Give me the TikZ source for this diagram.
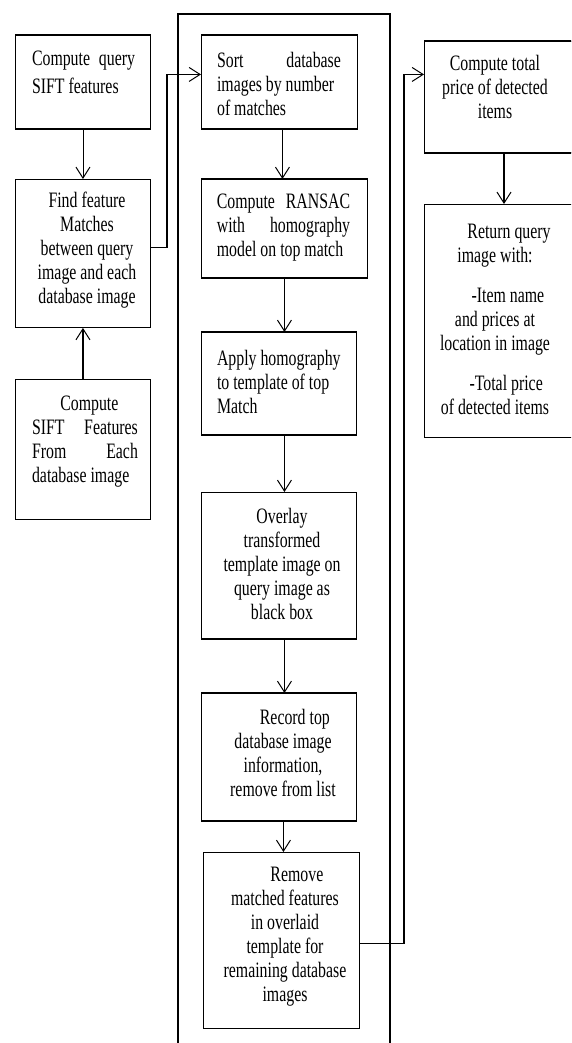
\documentclass[tikz,border=0pt]{standalone}
\usepackage{fontspec}
\usepackage{graphicx}
\setmainfont{Liberation Serif}
\newcommand\nohyph{\hyphenpenalty 10000\exhyphenpenalty 10000\relax}
% #1 = design width, #2 = alignment, #3 = text ; squeezed horizontally
\newcommand\sqtext[3]{\scalebox{0.72}[1]{\begin{minipage}{#1}#2\nohyph #3\end{minipage}}}
\usetikzlibrary{arrows.meta,calc}
\begin{document}
\begin{tikzpicture}[x=1pt,y=-1pt,
  box/.style={draw, line width=0.9pt, inner sep=0pt, anchor=north west},
  txt/.style={inner sep=0pt, font={\fontsize{22}{24}\selectfont}},
  arr/.style={line width=1.2pt, -{Straight Barb[length=11pt,width=14pt,line width=1pt]}},
  thinarr/.style={arr, line width=0.7pt},
  thickarr/.style={arr, line width=2pt},
  edge/.style={line width=2pt}]
\clip (0,0) rectangle (571,1043);
\fill[white] (0,0) rectangle (571,1043);
% frame
\node[draw, line width=1.6pt, inner sep=0pt, anchor=north west,
      minimum width=212pt, minimum height=1060pt] (F) at (177,13) {};
% boxes
\node[box, minimum width=135pt, minimum height=93pt]  (A) at (15,35) {};
\node[box, minimum width=135pt, minimum height=148pt] (B) at (15,179) {};
\node[box, minimum width=135pt, minimum height=140pt] (C) at (15,379) {};
\node[box, minimum width=156pt, minimum height=93pt]  (Sort) at (201,35) {};
\node[box, minimum width=166pt, minimum height=98pt]  (RANSAC) at (201,179) {};
\node[box, minimum width=155pt, minimum height=102pt] (Apply) at (201,332) {};
\node[box, minimum width=155pt, minimum height=146pt] (Overlay) at (201,492) {};
\node[box, minimum width=155pt, minimum height=127pt] (Record) at (201,693) {};
\node[box, minimum width=156pt, minimum height=176pt] (Remove) at (203,852) {};
\node[box, minimum width=176pt, minimum height=111pt] (Total) at (424,41) {};
\node[box, minimum width=176pt, minimum height=233pt] (Return) at (424,204) {};
\foreach \n in {A,Sort,RANSAC,Apply,Record,Total}
  \draw[edge] (\n.north west) -- (\n.north east) (\n.south west) -- (\n.south east);
\draw[edge] (Overlay.south west) -- (Overlay.south east);
% texts
\node[txt] (tA) at (83.5,72.5)
  {\sqtext{143pt}{\raggedright}{Compute\hfill query\\[4pt]SIFT features}};
\node[txt] (tB) at (87,250)
  {\sqtext{200pt}{\centering}{Find feature\\Matches\\between query\\image and each\\database image}};
\node[txt] (tC) at (85,441.5)
  {\sqtext{147pt}{\raggedright}{\hfill\hspace{12pt}Compute\hfill\null\\SIFT\hfill Features\\From\hfill Each\\database image}};
\node[txt] (tSort) at (279,83.5)
  {\sqtext{172pt}{\raggedright}{Sort\hfill database\\images by number\\of matches}};
\node[txt] (tRANSAC) at (283.5,228)
  {\sqtext{185pt}{\raggedright}{Compute\hfill RANSAC\\with\hfill homography\\model on top match}};
\node[txt] (tApply) at (280,382)
  {\sqtext{175pt}{\raggedright}{Apply homography\\to template of top\\Match}};
\node[txt] (tOverlay) at (282,563.5)
  {\sqtext{200pt}{\centering}{Overlay\\transformed\\template image on\\query image as\\black box}};
\node[txt] (tRecord) at (283,752.5)
  {\sqtext{200pt}{\centering}{\hspace*{33pt}Record top\\database image\\information,\\remove from list}};
\node[txt] (tRemove) at (285,937)
  {\sqtext{200pt}{\centering}{\hspace*{33pt}Remove\\matched features\\in overlaid\\template for\\remaining database\\images}};
\node[txt] (tTotal) at (495,87)
  {\sqtext{200pt}{\centering}{Compute total\\price of detected\\items}};
\node[txt] (tReturn) at (495,319)
  {\sqtext{200pt}{\centering}{\hspace*{39pt}Return query\\image with:\\[16pt]\hspace*{36pt}-Item name\\and prices at\\location in image\\[16pt]\hspace*{31pt}-Total price\\of detected items}};
% connectors
\draw[thinarr] (A.south) -- (B.north);
\draw[thickarr] (C.north) -- (B.south);
\draw[arr] ([yshift=6pt]B.east) -- ++(16,0) |- ([yshift=7.5pt]Sort.west);
\draw[arr] ([xshift=3pt]Sort.south) -- ([xshift=3pt]Sort.south |- RANSAC.north);
\draw[arr] (RANSAC.south) -- (RANSAC.south |- Apply.north);
\draw[arr] ([xshift=5.5pt]Apply.south) -- ([xshift=5.5pt]Apply.south |- Overlay.north);
\draw[arr] ([xshift=5.5pt]Overlay.south) -- ([xshift=5.5pt]Overlay.south |- Record.north);
\draw[arr] ([xshift=4.5pt]Record.south) -- ([xshift=4.5pt]Record.south |- Remove.north);
\draw[arr] ([yshift=-3pt]Remove.east) -- ++(44,0) |- ([yshift=22.5pt]Total.west);
\draw[arr] ([xshift=80pt]Total.south west) -- ([xshift=80pt]Total.south west |- Return.north);
\end{tikzpicture}
\end{document}
